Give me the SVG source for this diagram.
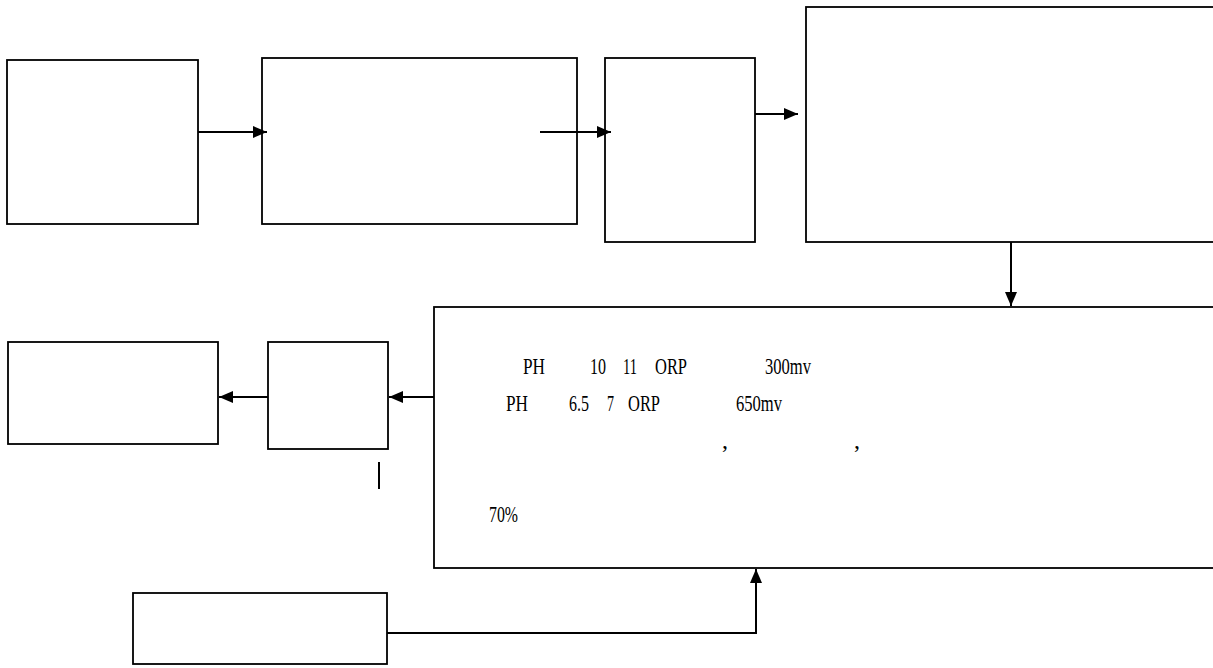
<svg xmlns="http://www.w3.org/2000/svg" width="1213" height="668" viewBox="0 0 1213 668">
<style>
.box{fill:#fff;stroke:#000;stroke-width:1.8}
.ln{fill:none;stroke:#000;stroke-width:2}
.t{font-family:"Liberation Serif","Times New Roman",serif;font-size:24px;fill:#000}
</style>
<defs>
<marker id="ah" viewBox="0 0 14 12" refX="14" refY="6" markerWidth="14" markerHeight="12" orient="auto" markerUnits="userSpaceOnUse">
<path d="M0,0 L14,6 L0,12 Z" fill="#000"/>
</marker>
</defs>
<rect width="1213" height="668" fill="#fff"/>
<g id="n1"><rect class="box" x="7" y="60" width="191" height="164"/></g>
<g id="n2"><rect class="box" x="262" y="58" width="315" height="166"/></g>
<g id="n3"><rect class="box" x="605" y="58" width="150" height="184"/></g>
<g id="n4"><rect class="box" x="806" y="7" width="420" height="235"/></g>
<g id="n5"><rect class="box" x="434" y="307" width="792" height="261"/>
<text class="t" x="523" y="374" textLength="22" lengthAdjust="spacingAndGlyphs">PH</text>
<text class="t" x="590" y="374" textLength="16" lengthAdjust="spacingAndGlyphs">10</text>
<text class="t" x="623" y="374" textLength="14" lengthAdjust="spacingAndGlyphs">11</text>
<text class="t" x="655" y="374" textLength="32" lengthAdjust="spacingAndGlyphs">ORP</text>
<text class="t" x="765" y="374" textLength="46" lengthAdjust="spacingAndGlyphs">300mv</text>
<text class="t" x="506" y="411" textLength="22" lengthAdjust="spacingAndGlyphs">PH</text>
<text class="t" x="569" y="411" textLength="20" lengthAdjust="spacingAndGlyphs">6.5</text>
<text class="t" x="607" y="411" textLength="7" lengthAdjust="spacingAndGlyphs">7</text>
<text class="t" x="628" y="411" textLength="32" lengthAdjust="spacingAndGlyphs">ORP</text>
<text class="t" x="736" y="411" textLength="46" lengthAdjust="spacingAndGlyphs">650mv</text>
<text class="t" x="722" y="448">,</text>
<text class="t" x="854" y="448">,</text>
<text class="t" x="489" y="522" textLength="29" lengthAdjust="spacingAndGlyphs">70%</text>
</g>
<g id="n6"><rect class="box" x="268" y="342" width="120" height="107"/></g>
<g id="n7"><rect class="box" x="8" y="342" width="210" height="102"/></g>
<g id="n8"><rect class="box" x="133" y="593" width="254" height="71"/></g>
<g id="connectors">
<line class="ln" x1="198" y1="132" x2="267" y2="132" marker-end="url(#ah)"/>
<line class="ln" x1="540" y1="132" x2="611" y2="132" marker-end="url(#ah)"/>
<line class="ln" x1="755" y1="114" x2="798" y2="114" marker-end="url(#ah)"/>
<line class="ln" x1="1011" y1="242" x2="1011" y2="306" marker-end="url(#ah)"/>
<line class="ln" x1="434" y1="397" x2="389" y2="397" marker-end="url(#ah)"/>
<line class="ln" x1="268" y1="397" x2="219" y2="397" marker-end="url(#ah)"/>
<line class="ln" x1="379" y1="462" x2="379" y2="489"/>
<polyline class="ln" points="387,633 756,633 756,569" marker-end="url(#ah)"/>
</g>
</svg>
